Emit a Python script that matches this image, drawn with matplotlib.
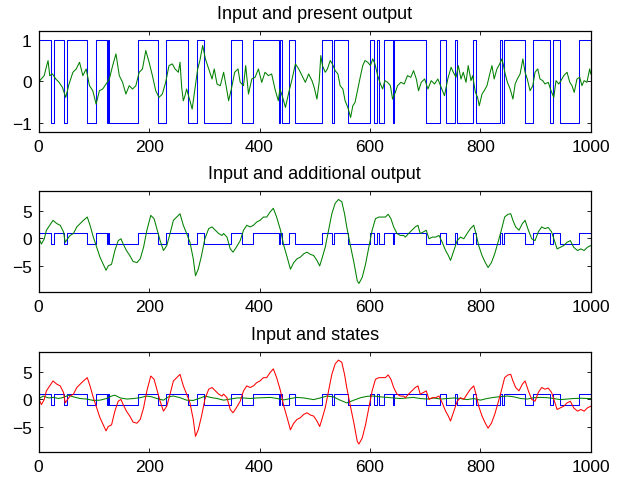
import numpy as np
import matplotlib
matplotlib.use("Agg")
import matplotlib.pyplot as plt

plt.rcParams['font.family'] = ['Liberation Sans', 'DejaVu Sans']

# switch times of the +-1 input (starts at +1), shared by all three panels
switch_t = [23, 27, 46, 52, 88, 104, 123, 126, 128, 179, 217, 231, 270, 286,
            300, 349, 369, 388, 436, 438, 441, 453, 465, 514, 531, 535, 561,
            600, 607, 612, 616, 626, 642, 644, 701, 727, 737, 754, 757, 786,
            793, 835, 839, 842, 880, 896, 927, 932, 944, 978]
u_start = 1.0
t_end = 1000

# present output (top panel, green)
y_t = [1, 4, 10, 13, 17, 20, 25, 31, 37, 43, 49, 55, 62, 68, 74, 80, 86, 92,
       98, 104, 110, 116, 122, 128, 134, 140, 146, 152, 158, 164, 170, 176,
       182, 188, 194, 200, 206, 212, 218, 224, 230, 236, 242,
       247, 253, 256, 259, 262, 265, 268, 274, 278, 283, 288, 292, 297, 302,
       308, 314, 318, 323, 329, 335, 341, 344, 349, 355, 361, 365, 371, 375,
       380, 386, 392, 398, 404, 410, 416, 422, 428, 434, 437, 441, 447, 453,
       459, 465, 471, 477, 483, 489, 495,
       499, 504, 508, 511, 514, 519, 523, 528, 532, 537, 542, 546, 551, 555,
       560, 565, 569, 573, 578, 583, 587, 591, 596, 601, 605, 609, 614, 619,
       623, 627, 632, 637, 641, 646, 650, 656, 662, 668, 674, 679, 684, 688,
       693, 699, 705, 711, 717, 723, 729, 735, 741, 747,
       751, 756, 760, 765, 769, 774, 778, 783, 786, 791, 795, 798, 803, 807,
       812, 817, 821, 825, 830, 835, 839, 842, 845, 849, 854, 859, 863, 867,
       872, 877, 881, 885, 890, 895, 899, 904, 908, 913, 917, 923, 928, 933,
       937, 942, 946, 951, 957, 962, 966, 970, 975, 980, 984, 988, 993, 998,
       1000]
y_val = [0.0, 0.05, 0.14, 0.30, 0.50, 0.14, 0.18, 0.06, -0.02, -0.14, -0.38,
         -0.06, 0.22, 0.30, 0.46, 0.14, 0.30, -0.10, -0.22, -0.54, -0.22,
         -0.18, -0.06, 0.06, 0.38, 0.66, 0.14, -0.02, -0.30, -0.10, -0.18,
         -0.10, 0.22, 0.30, 0.74, 0.46, 0.14, -0.22, -0.38, -0.30, -0.02,
         0.38, 0.42,
         0.30, 0.22, 0.46, -0.14, -0.46, -0.34, -0.18, -0.46, -0.66, -0.18,
         0.30, 0.50, 0.86, 0.54, 0.30, 0.06, 0.30, -0.06, -0.10, 0.22,
         -0.22, -0.46, -0.18, 0.22, 0.30, -0.02, -0.10, 0.38, -0.30, 0.06,
         0.10, 0.30, -0.02, 0.22, 0.14, 0.18, -0.18, -0.46, -0.18, -0.34,
         -0.62, -0.26, 0.06, 0.42, 0.30, 0.14, -0.02, 0.18, 0.02,
         -0.14, -0.42, -0.02, 0.62, 0.38, 0.22, 0.30, 0.50, 0.42, 0.26,
         0.18, -0.10, -0.18, -0.46, -0.62, -0.86, -0.58, -0.50, -0.18, 0.14,
         0.38, 0.50, 0.46, 0.38, 0.54, 0.42, 0.14, -0.06, -0.18, 0.02,
         -0.02, -0.10, -0.42, -0.26, -0.10, -0.02, -0.06, 0.14, 0.10, 0.26,
         0.06, -0.22, -0.02, 0.06, -0.18, 0.02, -0.06, 0.06, -0.14, -0.34,
         0.06, 0.34,
         0.22, 0.10, 0.38, 0.06, 0.22, -0.02, 0.38, 0.02, 0.14, -0.26,
         -0.38, -0.58, -0.30, -0.22, -0.10, 0.18, 0.38, 0.06, 0.30, 0.42,
         0.54, 0.38, 0.18, -0.02, -0.18, -0.42, -0.06, 0.06, 0.18, 0.54,
         0.22, 0.06, -0.22, -0.10, 0.22, 0.30, 0.06, 0.02, -0.06, -0.02,
         -0.22, -0.38, 0.02, -0.06, 0.02, 0.14, 0.22, -0.02, -0.10, -0.26,
         0.06, 0.10, -0.10, 0.02, -0.02, 0.30, 0.18]

# additional output / first state (middle green, bottom red)
x1_t = [2, 5, 10, 14, 20, 26, 33, 39, 45, 48, 52, 57, 63, 69, 75, 81, 88, 93,
        99, 105, 111, 117, 122, 126, 132, 138, 144, 149, 153, 159, 165, 171,
        178, 184, 190, 196, 203, 209, 214, 220, 226, 232, 238, 244, 250, 256,
        262, 268, 274, 280, 284, 289, 295, 301, 308, 314, 320, 326, 332,
        335, 341, 347, 352, 358, 365, 371, 377, 383, 389, 395, 401, 407, 413,
        419, 425, 431, 438, 444, 450, 456, 462, 468, 474, 480, 486, 492, 498,
        504, 509, 513, 519, 525, 531, 537, 543, 549, 554, 558, 564, 571, 577,
        580, 586, 592, 598, 604, 610, 616, 622, 628, 633, 638, 643, 649, 655,
        661,
        664, 670, 676, 682, 687, 691, 697, 702, 707, 713, 719, 725, 731, 737,
        742, 746, 752, 758, 764, 770, 776, 782, 788, 792, 797, 803, 809, 814,
        820, 826, 832, 838, 844, 850, 855, 859, 864, 870, 876, 881, 887, 893,
        899, 905, 911, 917, 923, 929, 935, 939, 945, 951, 957, 963, 969, 976,
        982, 988, 994, 1000]
x1_val = [-0.37, -1.0, -0.1, 1.5, 2.4, 3.3, 2.7, 2.4, 1.2, -0.7,
          -0.1, 0.55, 0.9, 2.1, 2.7, 3.3, 3.9, 2.4, 0.25, -1.6,
          -3.4, -4.7, -5.8, -5.0, -4.7, -2.2, -0.4, -0.06, -1.0, -2.2,
          -3.1, -4.2, -4.4, -3.7, -1.6, 1.5, 4.2, 3.6, 1.8, -0.4,
          -2.2, -1.3, 0.9, 3.3, 3.9, 4.5, 2.4, 0.9, -0.7, -3.7,
          -6.8, -5.6, -3.1, -0.06, 1.8, 2.1, 1.5, 0.9, 0.55,
          0.9, 0.25, -1.9, -2.5, -1.6, -0.4, 1.5, 2.4, 2.1, 2.4,
          3.0, 3.3, 3.9, 3.9, 4.8, 5.5, 3.9, 1.5, -1.3, -3.4,
          -5.6, -4.4, -3.7, -3.4, -2.8, -2.5, -2.9, -3.1, -4.0, -5.0,
          -3.7, -1.6, 1.5, 4.5, 6.4, 7.1, 6.7, 4.5, 2.1, -1.0,
          -4.4, -7.7, -8.2, -7.1, -4.7, -1.6, 1.5, 3.6, 3.9, 3.9,
          3.9, 4.4, 3.6, 2.1, 0.9, 0.55, 0.55,
          0.25, 0.9, 1.5, 2.1, 2.4, 0.9, 1.2, 1.5, -0.06, 0.25,
          0.25, 0.55, -0.7, -2.2, -3.1, -4.0, -2.2, -0.4, 0.25, -0.06,
          0.9, 1.8, 2.4, 0.9, -1.3, -3.1, -4.4, -5.3, -4.4, -2.8,
          -0.7, 1.5, 3.9, 4.4, 4.5, 3.3, 2.1, 1.5, 2.7, 3.3,
          1.5, -0.06, -0.4, 1.2, 2.1, 1.8, 2.0, 1.2, -0.7, -1.9,
          -1.6, -1.3, -0.7, -0.4, -1.6, -2.2, -1.9, -2.2, -1.6, -1.3]

# second state (bottom green)
x2_t = [1, 8, 18, 27, 36, 45, 54, 63, 75, 87, 99, 111, 123, 132, 138, 148,
        160, 172, 184, 196, 205, 214, 226, 235, 244, 256, 268, 280, 293, 302,
        311, 323, 335, 347, 359, 371, 383, 395, 407, 420, 432, 444, 456, 468,
        480, 492, 498, 510, 522, 534, 546, 558, 571, 583, 595, 607, 619, 631,
        643, 655, 667, 679, 691, 704, 716, 728, 740, 752, 764, 776, 788, 800,
        812, 824, 836, 849, 861, 873, 885, 897, 909, 921, 933, 945, 957, 969,
        982, 994, 1000]
x2_val = [0.1, 0.55, 0.2, 0.3, 0.1, 0.3, 0.7, 0.4, 0.1, 0.0,
          -0.25, -0.2, 0.1, 0.55, 0.7, 0.2, 0.0, 0.1, 0.25, 0.55,
          0.4, 0.1, -0.2, 0.4, 0.55, 0.25, -0.2, -0.25, 0.2, 0.55,
          0.3, 0.1, -0.2, 0.0, 0.2, 0.2, 0.1, 0.2, 0.25, 0.3,
          0.1, -0.15, 0.1, 0.3, 0.2, 0.0,
          -0.1, 0.2, 0.55, 0.4, -0.2, -0.7, -0.2, 0.25, 0.5, 0.55,
          0.4, 0.3, 0.2, 0.1, 0.2, 0.3, 0.1, 0.0, 0.2, 0.0,
          0.1, 0.2, 0.1, -0.1, 0.1, -0.2, 0.1, 0.3, 0.45, 0.55,
          0.4, 0.1, 0.0, 0.25, 0.3, 0.25, 0.1, -0.1, 0.0, 0.1,
          0.15, 0.1, 0.1]

titles = ['Input and present output', 'Input and additional output',
          'Input and states']

BLUE = (0, 0, 1)
GREEN = (0, 0.5, 0)
RED = (1, 0, 0)

# step signal from the switch list
edges = np.array([0] + switch_t + [t_end], dtype=float)
levels = u_start * (-1.0) ** np.arange(len(edges) - 1)
u_t = edges
u_val = np.append(levels, levels[-1])

fig = plt.figure(figsize=(6.33, 4.81), dpi=100)
left, width, height = 0.0611, 0.8722, 0.2088
bottoms = [0.7241, 0.3915, 0.0576]
axes = [fig.add_axes([left, b, width, height]) for b in bottoms]

lw = 0.75
for ax in axes:
    ax.step(u_t, u_val, where='post', color=BLUE, lw=lw)

axes[0].plot(y_t, y_val, color=GREEN, lw=lw)
axes[1].plot(x1_t, x1_val, color=GREEN, lw=lw)
axes[2].plot(x2_t, x2_val, color=GREEN, lw=lw)
axes[2].plot(x1_t, x1_val, color=RED, lw=lw)

axes[0].set_ylim(-1.2, 1.2)
axes[0].set_yticks([-1, 0, 1])
for ax in axes[1:]:
    ax.set_ylim(-9.7, 8.6)
    ax.set_yticks([-5, 0, 5])

for ax, title in zip(axes, titles):
    ax.set_xlim(0, 1000)
    ax.set_xticks(range(0, 1001, 200))
    ax.set_title(title, fontsize=13, pad=9.5)
    ax.tick_params(direction='in', top=True, right=True, length=3,
                   width=0.6, labelsize=12.5, pad=5)
    for sp in ax.spines.values():
        sp.set_linewidth(0.9)
    ax.set_yticklabels([str(v).replace('-', '\u2212') for v in ax.get_yticks().astype(int)])

fig.savefig('out.png', dpi=100)
